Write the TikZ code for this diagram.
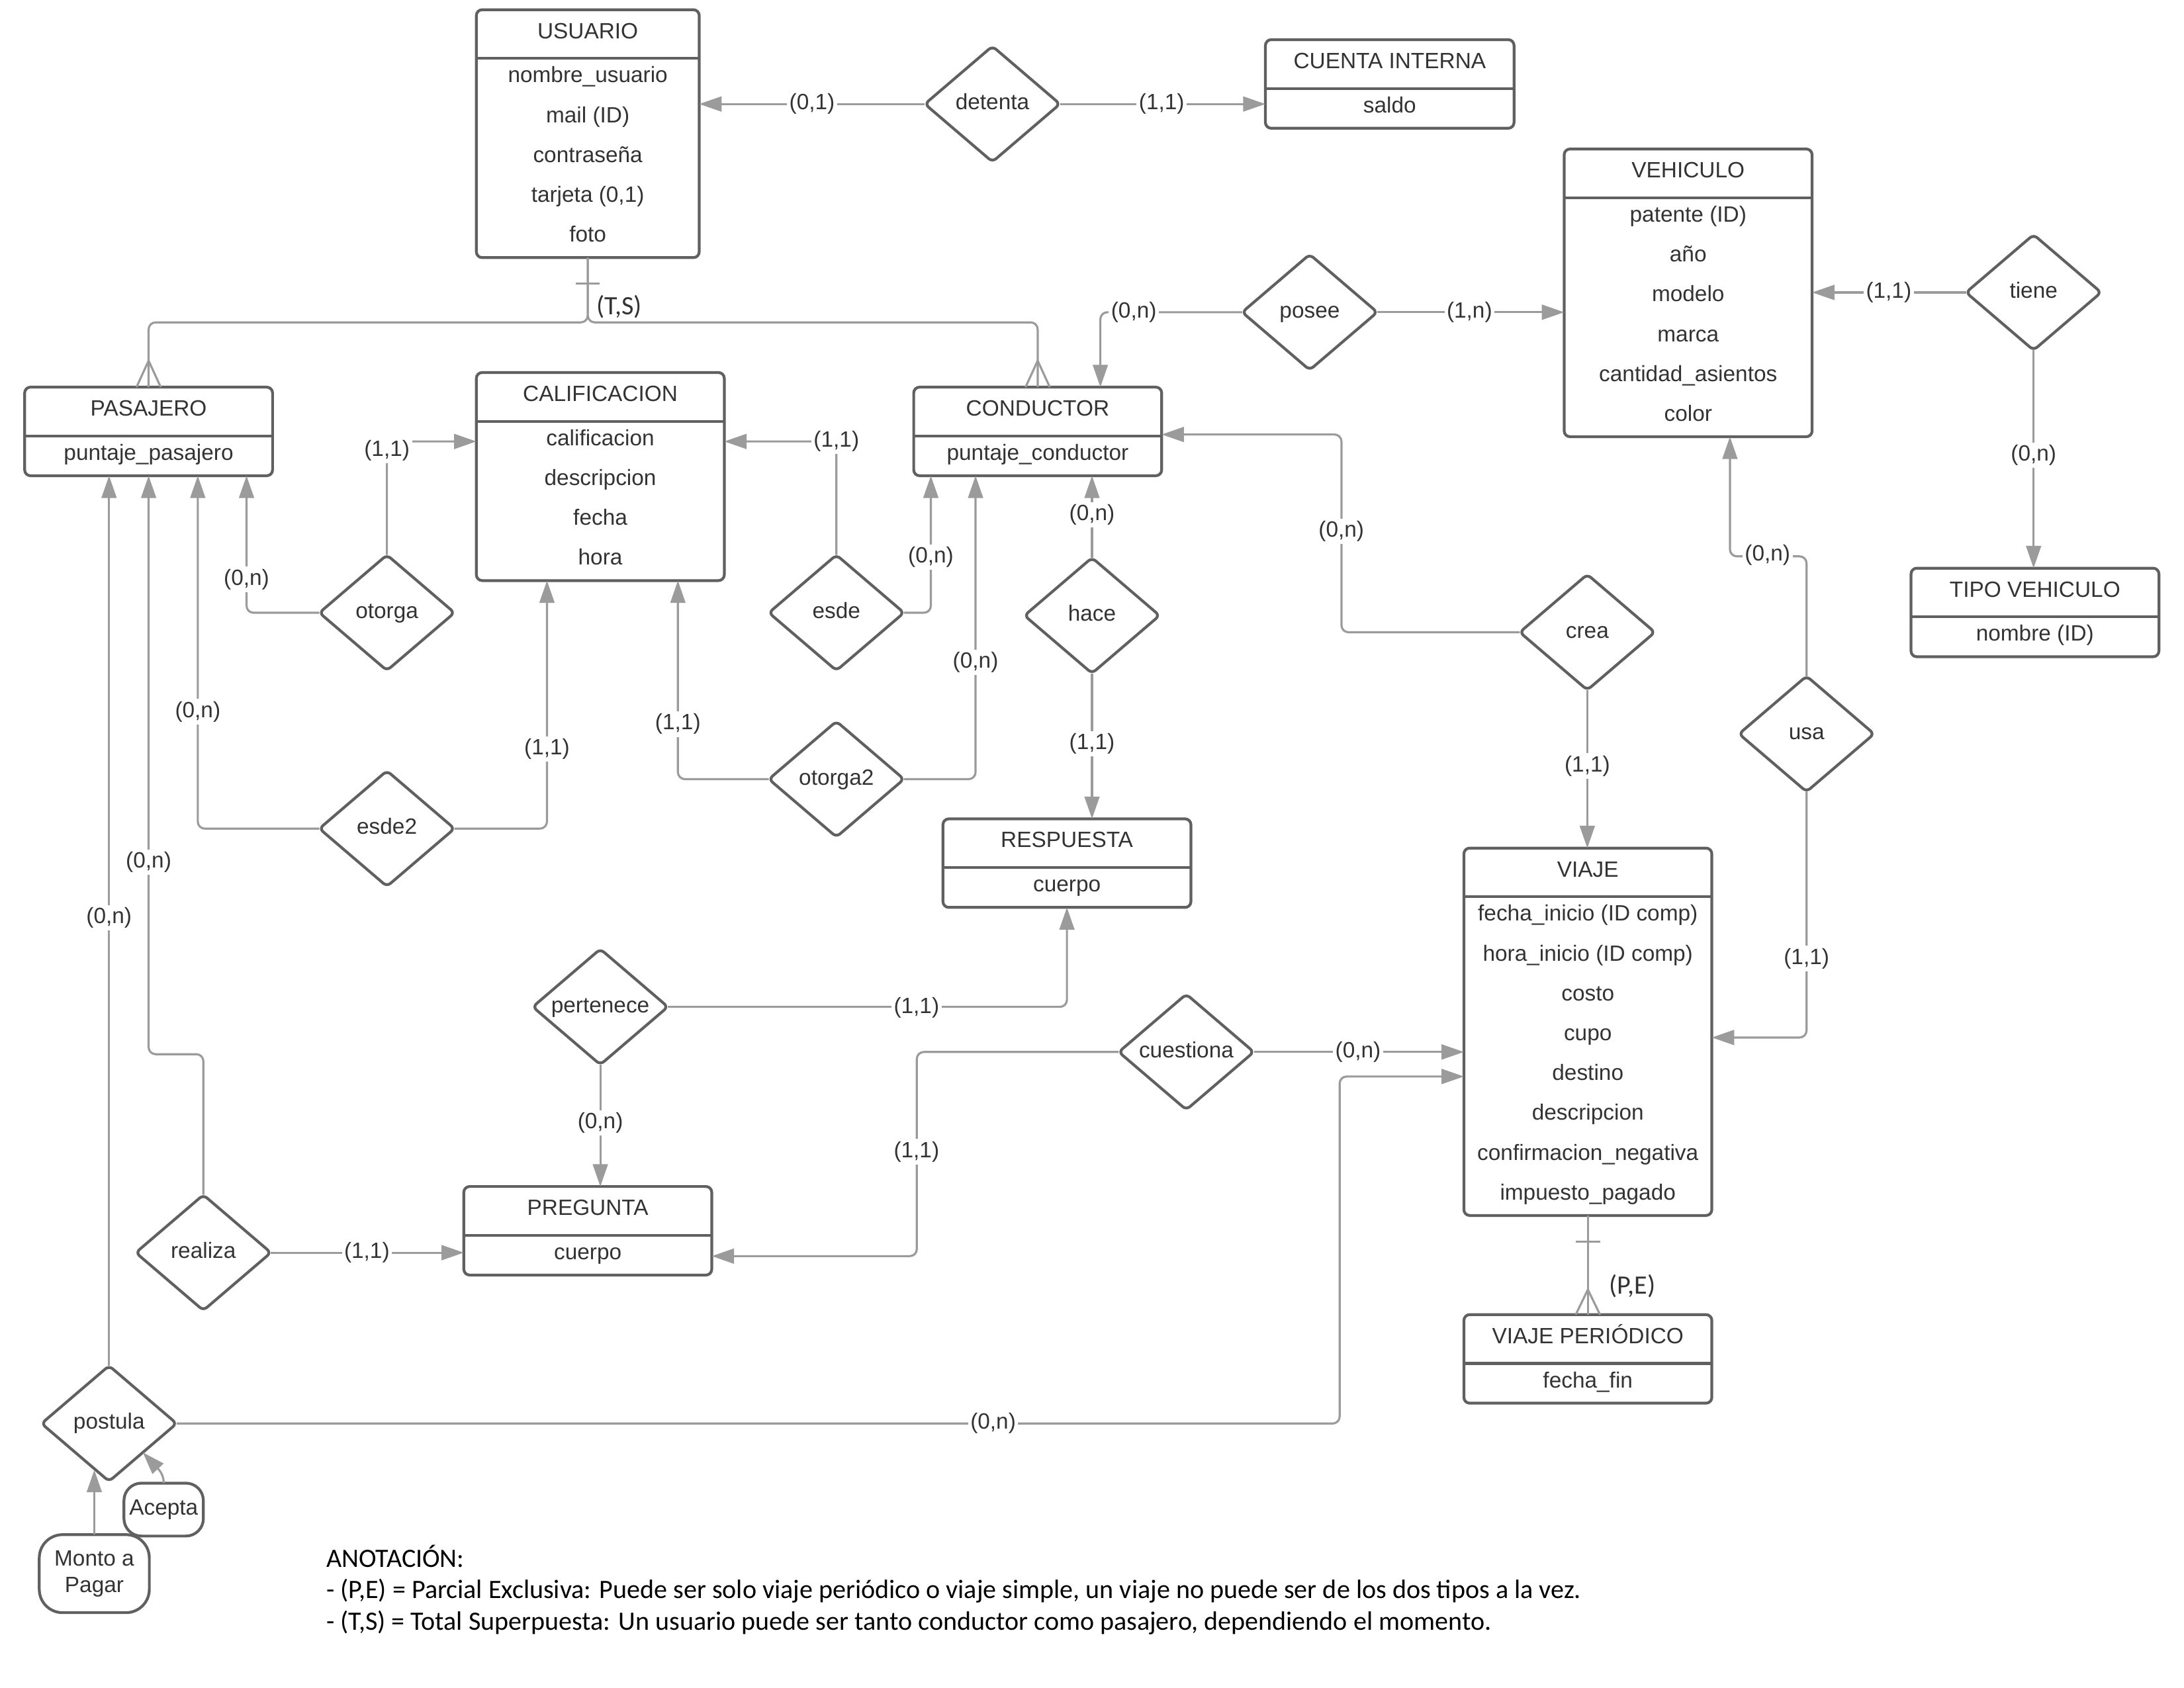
\documentclass[tikz,border=0pt]{standalone}
\usepackage{fontspec}
\setmainfont{Liberation Sans}
\newfontfamily\calibrifont{Carlito}
\usetikzlibrary{shapes.geometric,arrows.meta,calc}

\definecolor{boxc}{RGB}{96,96,96}
\definecolor{wirec}{RGB}{155,155,155}
\definecolor{inkc}{RGB}{51,51,51}

\newdimen\U
\U=0.598813pt
\newcommand{\fnorm}{\fontsize{9.5}{11.4}\selectfont}

\tikzset{
  etext/.style={font=\fnorm, text=inkc, inner sep=0pt, text height=6.9pt, text depth=2pt},
  ent/.style={draw=boxc, line width=1.2pt, fill=white, rounded corners=2.5pt,
              inner sep=0pt, outer sep=0pt, anchor=north west},
  sepline/.style={draw=boxc, line width=1.2pt},
  rel/.style={diamond, aspect=1.17, draw=boxc, line width=1.2pt, fill=white,
              rounded corners=2pt, inner sep=0pt, outer sep=0pt,
              minimum width=97*\U, minimum height=83*\U,
              font=\fnorm, text=inkc, text height=6.9pt, text depth=2pt},
  att/.style={draw=boxc, line width=1.2pt, fill=white, inner sep=0pt, outer sep=0pt,
              font=\fnorm, text=inkc, align=center},
  wire/.style={draw=wirec, line width=0.9pt, rounded corners=3pt},
  arr/.style={wire, -{Triangle[length=9.6pt,width=6.4pt]}},
  card/.style={fill=white, inner sep=1pt, font=\fnorm, text=inkc,
               text height=6.9pt, text depth=2pt},
  kind/.style={inner sep=0pt, font=\calibrifont\fontsize{11.4}{13.6}\selectfont, text=inkc},
  note/.style={inner sep=0pt, anchor=base west,
               font=\calibrifont\fontsize{11.4}{13.6}\selectfont, text=black},
}

% entity: name, top-left corner, width, number of attributes, title, attributes
\newcommand{\entitybox}[6]{%
  \node[ent, minimum width={#3*\U}, minimum height={(35+28.6*#4)*\U}] (#1) at (#2) {};
  \draw[sepline] ($(#1.north west)+(0,35)$) -- ($(#1.north east)+(0,35)$);
  \node[etext] at ($(#1.north)+(0,16.5)$) {#5};
  \foreach \a [count=\i] in {#6} {\node[etext] at ($(#1.north)+(0,{35+28.6*\i-15.3})$) {\a};}
}

\begin{document}
\begin{tikzpicture}[x=0.598813pt, y=-0.598813pt]
\fill[white] (0,0) rectangle (1568,1212);
\useasboundingbox (0,0) rectangle (1568,1212);

% ---------- entities ----------
\entitybox{usuario}{342,7}{160}{5}{USUARIO}{nombre\_usuario, mail (ID), contraseña, {tarjeta (0,1)}, foto}
\entitybox{cuenta}{908.5,28.5}{178.5}{1}{CUENTA INTERNA}{saldo}
\entitybox{vehiculo}{1123,107}{178}{6}{VEHICULO}{patente (ID), año, modelo, marca, cantidad\_asientos, color}
\entitybox{pasajero}{17.7,278}{178}{1}{PASAJERO}{puntaje\_pasajero}
\entitybox{calif}{342,267.5}{178}{4}{CALIFICACION}{calificacion, descripcion, fecha, hora}
\entitybox{conductor}{656,278}{178}{1}{CONDUCTOR}{puntaje\_conductor}
\entitybox{tipo}{1372,408}{178}{1}{TIPO VEHICULO}{nombre (ID)}
\entitybox{respuesta}{677,588}{178}{1}{RESPUESTA}{cuerpo}
\entitybox{viaje}{1051,609}{178}{8}{VIAJE}{fecha\_inicio (ID comp), hora\_inicio (ID comp), costo, cupo, destino, descripcion, confirmacion\_negativa, impuesto\_pagado}
\entitybox{pregunta}{333,852}{178}{1}{PREGUNTA}{cuerpo}
\entitybox{vper}{1051,944}{178}{1}{VIAJE PERIÓDICO}{fecha\_fin}

% ---------- relationships ----------
\node[rel] (detenta)   at (712.5,74.7)  {detenta};
\node[rel] (posee)     at (940.3,224.2) {posee};
\node[rel] (tiene)     at (1460,210)    {tiene};
\node[rel] (otorga)    at (277.8,440)   {otorga};
\node[rel] (esde)      at (600.5,440)   {esde};
\node[rel] (hace)      at (784,442)     {hace};
\node[rel] (crea)      at (1139.6,454)  {crea};
\node[rel] (usa)       at (1297,527)    {usa};
\node[rel] (esdedos)   at (277.8,595)   {esde2};
\node[rel] (otorgados) at (600.5,559.5) {otorga2};
\node[rel] (pertenece) at (431,723)     {pertenece};
\node[rel] (cuestiona) at (851.7,755.4) {cuestiona};
\node[rel] (realiza)   at (146,899.5)   {realiza};
\node[rel] (postula)   at (78.3,1022.2) {postula};

% ---------- attributes of postula ----------
\node[att, minimum width=79*\U, minimum height=56*\U, rounded corners=10pt] (monto) at (67.7,1130) {Monto a\\Pagar};
\node[att, minimum width=57*\U, minimum height=38*\U, rounded corners=7.5pt] (acepta) at (117.5,1084) {Acepta};

% ---------- connectors ----------
% detenta
\draw[arr] (detenta.west) -- (usuario.east |- detenta.west);
\draw[arr] (detenta.east) -- (cuenta.west |- detenta.east);
% posee
\draw[arr] (posee.west) -| ($(conductor.north west)+(134,0)$);
\draw[arr] (posee.east) -- (vehiculo.west |- posee.east);
% tiene
\draw[arr] (tiene.west) -- (vehiculo.east |- tiene.west);
\draw[arr] (tiene.south) -- (tiene.south |- tipo.north);

% generalization of USUARIO
\coordinate (isa) at ($(usuario.south)+(0,46.5)$);
\draw[wire] (usuario.south) -- (isa) -| (pasajero.north);
\draw[wire] (usuario.south) -- (isa) -| (conductor.north);
\draw[wire] ($(usuario.south)+(-8.7,18.5)$) -- ($(usuario.south)+(8.7,18.5)$);
\draw[wire, sharp corners] ($(pasajero.north)+(-8.7,0)$) -- ($(pasajero.north)+(0,-19)$) -- ($(pasajero.north)+(8.7,0)$);
\draw[wire, sharp corners] ($(conductor.north)+(-8.7,0)$) -- ($(conductor.north)+(0,-19)$) -- ($(conductor.north)+(8.7,0)$);

% generalization of VIAJE
\draw[wire] (viaje.south) -- (vper.north);
\draw[wire] ($(viaje.south)+(-8.7,19)$) -- ($(viaje.south)+(8.7,19)$);
\draw[wire, sharp corners] ($(vper.north)+(-8.7,0)$) -- ($(vper.north)+(0,-18)$) -- ($(vper.north)+(8.7,0)$);

% into PASAJERO
\draw[arr] (otorga.west) -| ($(pasajero.south west)+(159.3,0)$);
\draw[arr] (esdedos.west) -| ($(pasajero.south west)+(124.3,0)$);
\draw[arr] (realiza.north) -- ++(0,-101) -| (pasajero.south);
\draw[arr] (postula.north) -- (postula.north |- pasajero.south);

% into CALIFICACION
\draw[arr] (otorga.north) |- ($(calif.north west)+(0,49.5)$);
\draw[arr] (esdedos.east) -| ($(calif.south west)+(50.7,0)$);
\draw[arr] (esde.north) |- ($(calif.north east)+(0,49.5)$);
\draw[arr] (otorgados.west) -| ($(calif.south west)+(144.7,0)$);

% into CONDUCTOR
\draw[arr] (esde.east) -| ($(conductor.south west)+(12.3,0)$);
\draw[arr] (otorgados.east) -| ($(conductor.south west)+(44.4,0)$);
\draw[arr] (hace.north) -- (hace.north |- conductor.south);
\draw[arr] (crea.west) -- ++(-128,0) |- ($(conductor.north east)+(0,34)$);

% into RESPUESTA
\draw[arr] (hace.south) -- (hace.south |- respuesta.north);
\draw[arr] (pertenece.east) -| (respuesta.south);

% VIAJE and VEHICULO
\draw[arr] (crea.south) -- (crea.south |- viaje.north);
\draw[arr] (usa.south) |- ($(viaje.north east)+(0,136)$);
\draw[arr] (usa.north) -- ++(0,-86) -| ($(vehiculo.south west)+(119,0)$);
\draw[arr] (cuestiona.east) -- (viaje.west |- cuestiona.east);
\draw[arr] (postula.east) -- ++(835,0) |- ($(viaje.north west)+(0,164)$);

% into PREGUNTA
\draw[arr] (pertenece.south) -- (pertenece.south |- pregunta.north);
\draw[arr] (cuestiona.west) -- ++(-145,0) |- ($(pregunta.north east)+(0,50)$);
\draw[arr] (realiza.east) -- (pregunta.west |- realiza.east);

% attributes into postula
\draw[arr] (monto.north) -- (monto.north |- postula.-106);
\draw[arr] (acepta.north) -- ++(0,-6) -- (postula.south east);

% ---------- cardinalities ----------
\node[card] at (583,74.7)    {(0,1)};
\node[card] at (834,74.7)    {(1,1)};
\node[card] at (814,224.2)   {(0,n)};
\node[card] at (1055,224.2)  {(1,n)};
\node[card] at (1356,210)    {(1,1)};
\node[card] at (1460,327)    {(0,n)};
\node[card] at (277.8,323.5) {(1,1)};
\node[card] at (600.5,317)   {(1,1)};
\node[card] at (177,416)     {(0,n)};
\node[card] at (142,511)     {(0,n)};
\node[card] at (106.7,619)   {(0,n)};
\node[card] at (78.3,659)    {(0,n)};
\node[card] at (392.7,538)   {(1,1)};
\node[card] at (668.3,400)   {(0,n)};
\node[card] at (486.7,520)   {(1,1)};
\node[card] at (700.4,475.6) {(0,n)};
\node[card] at (784,369.8)   {(0,n)};
\node[card] at (784,534)     {(1,1)};
\node[card] at (963,381.4)   {(0,n)};
\node[card] at (1139.6,550)  {(1,1)};
\node[card] at (1269,398.5)  {(0,n)};
\node[card] at (1297,688.3)  {(1,1)};
\node[card] at (658,723.4)   {(1,1)};
\node[card] at (431,806.4)   {(0,n)};
\node[card] at (975,755.4)   {(0,n)};
\node[card] at (658,827)     {(1,1)};
\node[card] at (263.4,899.5) {(1,1)};
\node[card] at (713,1022.2)  {(0,n)};

% generalization kinds
\node[kind] at (444.5,220.5) {(T,S)};
\node[kind] at (1172,923.5)  {(P,E)};

% ---------- note ----------
\node[note] (notaA) at (234,1125.3) {ANOTACIÓN:};
\node[note] (notaB) at (234,1147.8) {- (P,E) = Parcial Exclusiva: Puede ser solo viaje periódico o viaje simple, un viaje no puede ser de los dos tipos a la vez.};
\node[note] (notaC) at (234,1170.3) {- (T,S) = Total Superpuesta: Un usuario puede ser tanto conductor como pasajero, dependiendo el momento.};
\end{tikzpicture}
\end{document}
